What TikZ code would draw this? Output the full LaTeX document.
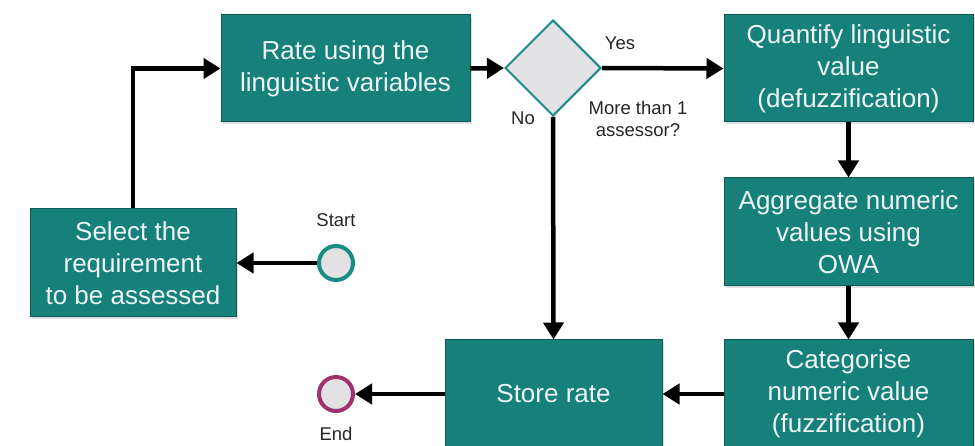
\documentclass[tikz,border=0pt]{standalone}
\usepackage{fontspec}
\setmainfont{Liberation Sans}
\usetikzlibrary{arrows.meta,shapes.geometric,shadows}
\definecolor{boxfill}{RGB}{22,128,122}
\definecolor{boxdraw}{RGB}{14,88,84}
\definecolor{boxtext}{RGB}{238,245,244}
\definecolor{startcol}{RGB}{26,140,132}
\definecolor{endcol}{RGB}{160,48,110}
\definecolor{lightgray}{RGB}{226,226,228}
\tikzset{
  procbox/.style={rectangle, draw=boxdraw, line width=1pt, fill=boxfill, text=boxtext,
    align=center, inner sep=2pt, font=\fontsize{26}{32}\selectfont,
    drop shadow={shadow xshift=2pt, shadow yshift=-2pt, opacity=0.25}},
  decision/.style={diamond, aspect=1, draw=startcol, line width=2pt, fill=lightgray,
    inner sep=0pt, minimum size=96pt},
  event/.style={circle, fill=lightgray, line width=4pt, minimum size=34pt, inner sep=0pt},
  arr/.style={line width=4.5pt, -{Triangle[length=17pt,width=20pt]}},
  lbl/.style={font=\fontsize{18.5}{22}\selectfont, text=black!85, align=center}
}
\begin{document}
\begin{tikzpicture}[x=1pt,y=-1pt]
\useasboundingbox[fill=white] (0,0) rectangle (975,446);
\begin{scope}
\clip (0,0) rectangle (975,446);
\node[procbox, minimum width=249pt, minimum height=107pt] (rate) at (345.5,68.5) {Rate using the\\linguistic variables};
\node[decision] (dia) at (553,68) {};
\node[procbox, minimum width=249pt, minimum height=107pt] (quant) at (848.5,68.5) {Quantify linguistic\\value\\(defuzzification)};
\node[procbox, minimum width=249pt, minimum height=108pt] (aggr) at (848.5,232) {Aggregate numeric\\values using\\OWA};
\node[procbox, minimum width=249pt, minimum height=108pt] (cat) at (848.5,394) {Categorise\\numeric value\\(fuzzification)};
\node[procbox, minimum width=217pt, minimum height=108pt] (store) at (553.5,394) {Store rate};
\node[procbox, minimum width=206pt, minimum height=108pt] (sel) at (133,263) {Select the\\requirement\\to be assessed};
\node[event, draw=startcol] (start) at (336,263) {};
\node[event, draw=endcol] (end) at (336,394) {};

\node[lbl] (yes) at (620,43) {Yes};
\node[lbl] (no) at (523,118) {No};
\node[lbl] (more) at (638,119) {More than 1\\assessor?};
\node[lbl] (startl) at (336,220) {Start};
\node[lbl] (endl) at (336,434) {End};

\draw[arr] (sel.north) |- (rate.west);
\draw[arr] (rate.east) -- (dia.west);
\draw[arr] (dia.east) -- (quant.west);
\draw[arr] (dia.south) -- (store.north);
\draw[arr] (quant.south) -- (aggr.north);
\draw[arr] (aggr.south) -- (cat.north);
\draw[arr] (cat.west) -- (store.east);
\draw[arr] (store.west) -- (end.east);
\draw[arr] (start.west) -- (sel.east);
\end{scope}
\end{tikzpicture}
\end{document}
